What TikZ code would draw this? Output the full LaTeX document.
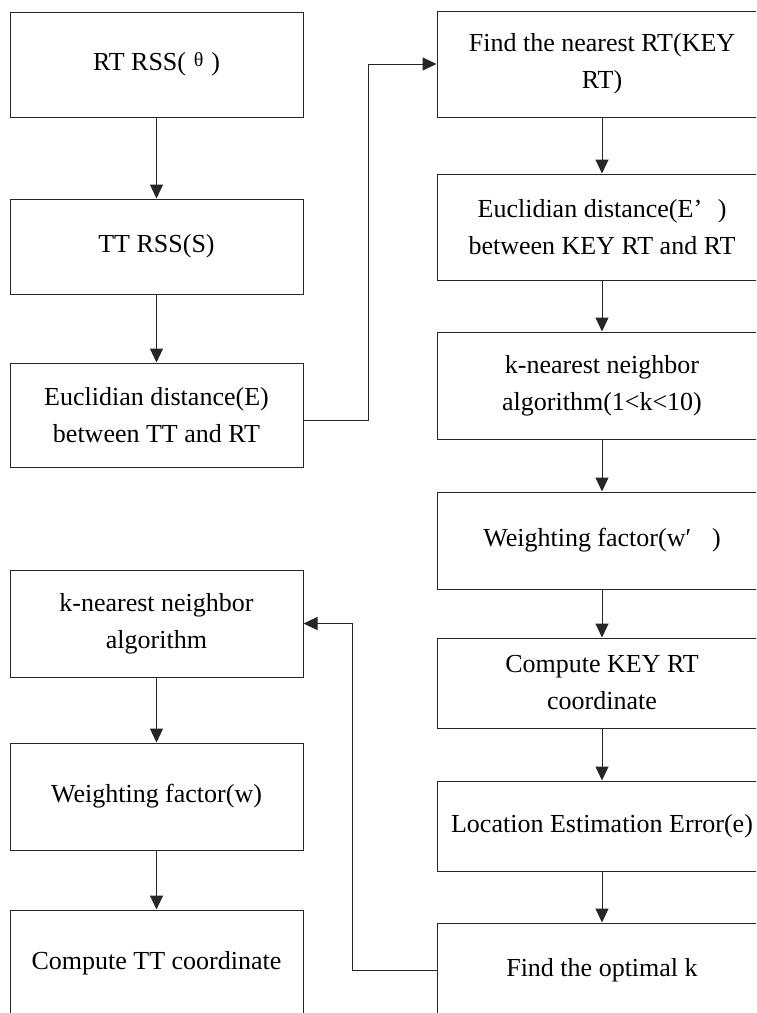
\documentclass[tikz,border=0pt]{standalone}
\usepackage{fontspec}
\setmainfont{Liberation Serif}
\usetikzlibrary{arrows.meta}

\def\LeftX{156.5}
\def\RightX{602}
\def\LineCol{black!85}

\begin{document}
\begin{tikzpicture}[x=1pt,y=-1pt,
  box/.style={draw=\LineCol, line width=1pt, align=center, inner sep=0pt,
    font=\fontsize{26}{37}\selectfont},
  lbox/.style={box, minimum width=293pt},
  rbox/.style={box, minimum width=330pt},
  arr/.style={draw=\LineCol, line width=1pt, -{Triangle[width=13pt,length=14pt]}}]
  \clip (0,0) rectangle (756,1013);
  \fill[white] (0,0) rectangle (756,1013);

  % --- Columna izquierda ---
  \node[lbox, minimum height=105pt] (rtrss) at (\LeftX,64.5)
    {RT RSS(\hspace{0.3em}{\fontsize{20}{20}\selectfont\raisebox{4pt}{θ}}\hspace{0.3em})};
  \node[lbox, minimum height=95pt] (ttrss) at (\LeftX,246.5) {TT RSS(S)};
  \node[lbox, minimum height=104pt] (eucl) at (\LeftX,415)
    {Euclidian distance(E)\\between TT and RT};
  \node[lbox, minimum height=107pt] (knn) at (\LeftX,623.5)
    {k-nearest neighbor\\algorithm};
  \node[lbox, minimum height=107pt] (wf) at (\LeftX,796.5) {Weighting factor(w)};
  \node[lbox, minimum height=106pt] (ttco) at (\LeftX,963) {Compute TT coordinate};

  % --- Columna derecha ---
  \node[rbox, minimum height=106pt] (nearest) at (\RightX,64)
    {Find the nearest RT(KEY\\RT)};
  \node[rbox, minimum height=106pt] (euclkey) at (\RightX,227)
    {Euclidian distance(E’\hspace{0.6em})\\between KEY RT and RT};
  \node[rbox, minimum height=107pt] (knnk) at (\RightX,385.5)
    {k-nearest neighbor\\algorithm(1<k<10)};
  \node[rbox, minimum height=97pt] (wfk) at (\RightX,540.5)
    {Weighting factor(w′\hspace{0.8em})};
  \node[rbox, minimum height=90pt] (keyco) at (\RightX,683)
    {Compute KEY RT\\coordinate};
  \node[rbox, minimum height=90pt] (locerr) at (\RightX,826)
    {Location Estimation Error(e)};
  \node[rbox, minimum height=94pt] (optk) at (\RightX,970) {Find the optimal k};

  % --- Flechas ---
  \foreach \a/\b in {rtrss/ttrss, ttrss/eucl, knn/wf, wf/ttco,
    nearest/euclkey, euclkey/knnk, knnk/wfk, wfk/keyco, keyco/locerr, locerr/optk}
  {
    \draw[arr] (\a) -- (\b);
  }
  \draw[arr] ([yshift=-5pt]eucl.east) -- ++(65,0) |- (nearest.west);
  \draw[arr] (optk.west) -- ++(-84,0) |- (knn.east);
\end{tikzpicture}
\end{document}
